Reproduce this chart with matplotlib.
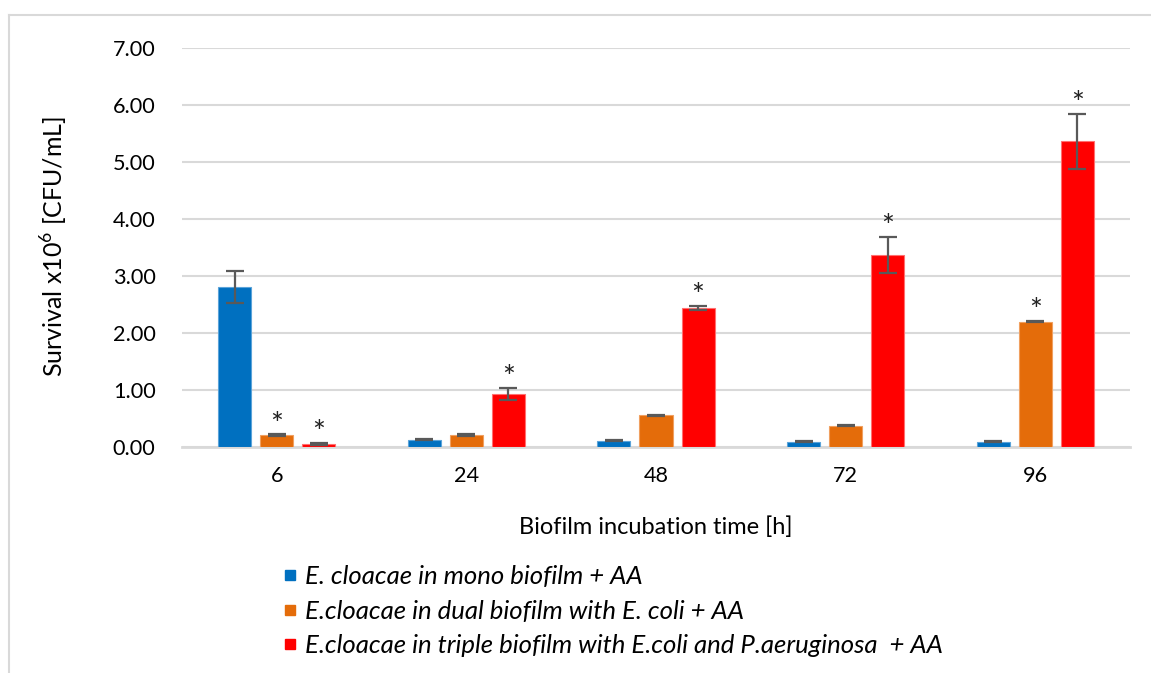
import matplotlib
matplotlib.use("Agg")
import matplotlib.pyplot as plt
import numpy as np
from matplotlib.lines import Line2D

plt.rcParams['font.family'] = ['Lato', 'DejaVu Sans']

times = ["6", "24", "48", "72", "96"]
series_labels = [
    "E. cloacae in mono biofilm + AA",
    "E.cloacae in dual biofilm with E. coli + AA",
    "E.cloacae in triple biofilm with E.coli and P.aeruginosa  + AA",
]
mono = [2.80, 0.13, 0.11, 0.09, 0.09]
mono_err = [0.28, 0.01, 0.01, 0.01, 0.01]
dual = [0.21, 0.21, 0.56, 0.37, 2.20]
dual_err = [0.01, 0.01, 0.01, 0.01, 0.01]
triple = [0.05, 0.93, 2.44, 3.37, 5.36]
triple_err = [0.02, 0.10, 0.04, 0.32, 0.49]
# significance marks (True = asterisk above the bar)
mono_sig = [False, False, False, False, False]
dual_sig = [True, False, False, False, True]
triple_sig = [True, True, True, True, True]

colors = ["#0070C0", "#E46C0A", "#FF0000"]
edge_colors = ["#5BA3D9", "#F0A060", "#FF7070"]

fig = plt.figure(figsize=(11.51, 6.73), dpi=100)
ax = fig.add_axes([182/1151, 1-447/673, (1130-182)/1151, (447-48)/673])

x = np.arange(len(times))
width = 0.175
offset = 0.222
data = [(mono, mono_err, mono_sig), (dual, dual_err, dual_sig), (triple, triple_err, triple_sig)]
for i, (vals, errs, sigs) in enumerate(data):
    pos = x + (i - 1) * offset
    ax.bar(pos, vals, width=width, color=colors[i], edgecolor=edge_colors[i],
           linewidth=0.8, zorder=3)
    ax.errorbar(pos, vals, yerr=errs, fmt='none', ecolor="#595959",
                elinewidth=1.6, capsize=6.5, capthick=1.6, zorder=4)
    for p, v, e, s in zip(pos, vals, errs, sigs):
        if s:
            ax.annotate("*", (p, v + e), xytext=(0, -3), textcoords="offset points",
                        ha="center", va="bottom", fontsize=22, color="#222222",
                        zorder=5)

ax.set_xlim(-0.5, len(times) - 0.5)
ax.set_ylim(0, 7)
ax.set_yticks(np.arange(0, 8, 1))
ax.set_yticklabels([f"{v:.2f}" for v in np.arange(0, 8, 1)])
ax.set_xticks(x)
ax.set_xticklabels(times)
ax.tick_params(axis='both', length=0, labelsize=15.6, colors="#000000")
ax.tick_params(axis='y', pad=19)
ax.tick_params(axis='x', pad=14)
ax.yaxis.grid(True, color="#D9D9D9", linewidth=1.5, zorder=0)
ax.set_axisbelow(True)
for side in ["top", "right", "left"]:
    ax.spines[side].set_visible(False)
ax.spines["bottom"].set_color("#D9D9D9")
ax.spines["bottom"].set_linewidth(2)
ax.spines["bottom"].set_zorder(2)

fig.text(656/1151, 1-527/673, "Biofilm incubation time [h]", ha="center", va="center",
         fontsize=17)
fig.text(54/1151, 1-246/673, "Survival x10$^{\\mathregular{6}}$ [CFU/mL]", ha="center",
         va="center", rotation=90, fontsize=18)

handles = [Line2D([0], [0], marker='s', linestyle='none', markersize=7,
                  markerfacecolor=c, markeredgecolor=c) for c in colors]
fig.legend(handles, series_labels, loc="upper left",
           bbox_to_anchor=(274/1151, 1-555/673), frameon=False,
           prop={'style': 'italic', 'size': 18.5}, handlelength=0.45,
           handletextpad=0.35, labelspacing=0.44, borderaxespad=0)

# outer frame of the chart area
fig.add_artist(Line2D([8.5/1151, 1], [1-14.5/673, 1-14.5/673], color="#D9D9D9",
                      linewidth=1.5, transform=fig.transFigure))
fig.add_artist(Line2D([8.5/1151, 8.5/1151], [0, 1-14.5/673], color="#D9D9D9",
                      linewidth=1.5, transform=fig.transFigure))

fig.savefig("out.png", dpi=100)
